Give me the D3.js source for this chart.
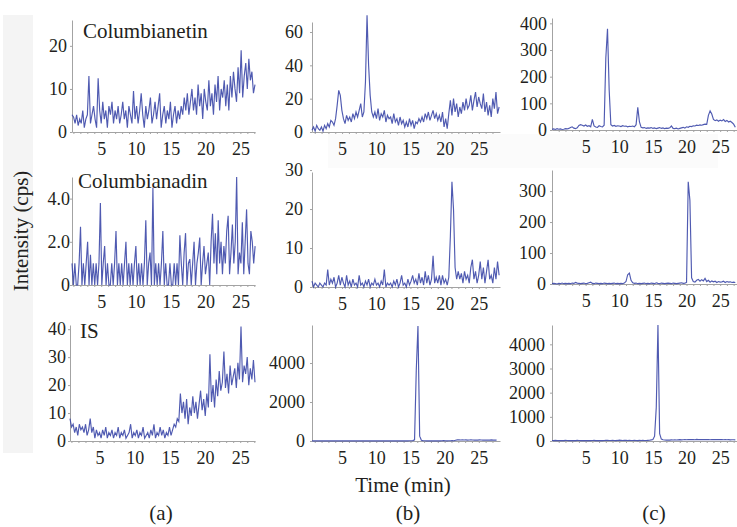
<!DOCTYPE html>
<html>
<head>
<meta charset="utf-8">
<script src="https://cdn.jsdelivr.net/npm/d3@7"></script>
<style>
body { margin: 0; background: #fff; }
svg text { font-family: "Liberation Serif", "Times New Roman", serif; fill: #231f20; }
</style>
</head>
<body>
<svg id="chart" width="737" height="527"></svg>
<script>
// x ticks shared by every panel (min)
var xLabels = [5, 10, 15, 20, 25];
var xMinor = [1,2,3,4,5,6,7,8,9,10,11,12,13,14,15,16,17,18,19,20,21,22,23,24,25,26,27];

// y ticks per panel
var a1Ticks = [0, 10, 20];
var a2Ticks = [0, 2, 4];
var a2Labels = ["0", "2.0", "4.0"];
var a3Ticks = [0, 10, 20, 30, 40];
var b1Ticks = [0, 20, 40, 60];
var b2Ticks = [0, 10, 20, 30];
var b3Ticks = [0, 2000, 4000];
var c1Ticks = [0, 100, 200, 300, 400];
var c2Ticks = [0, 100, 200, 300];
var c3Ticks = [0, 1000, 2000, 3000, 4000];

var compounds = ["Columbianetin", "Columbianadin", "IS"];
var columns = ["(a)", "(b)", "(c)"];

// scan start / interval (min) of each trace
var a1Scan = [0.8, 0.221];
var a2Scan = [0.8, 0.204];
var a3Scan = [0.8, 0.221];
var b1Scan = [0.6, 0.23];
var b2Scan = [0.6, 0.23];
var b3Scan = [0.6, 0.25];
var c1Scan = [0, 0.25];
var c2Scan = [0, 0.25];
var c3Scan = [0, 0.25];

// intensities (cps)
var a1 = [4,3.5,2,4,1.5,3,2,5,1,3, 4,13,2,4,6,3,1,12.5,5,2, 7,3,5,1,6,4,7,2,5,3,
  6,2,4,7,3,5,1,6,4,2, 9.5,3,6,2,5,9,4,1,6,3, 5,8,2,4,7,3,6,9,1,4,
  6,2,5,3,7,1,4,6,2,5, 3,6,4,8,5,9,4,7,10,5, 8,4,11,6,9,3,10,7,5,12,
  6,9,4,11,7,13,5,10,8,12, 6,11,5,13,8,14,10,7,15,9, 19,8,13,16,10,17,12,14,9,11];
var a2 = [1,0,1,0,0,1,2.7,0,1,0, 1,2.0,0,1.4,0,1,0,1,0,1, 3.8,0,1,1.8,0,1,0,0,1,0,
  1,2.5,0,1,0,1,0,1,2.0,0, 1,0,1,0,1,1.8,0,1,0,1, 0,1,3.0,0,1,1.5,0,4.5,0,1,
  0,1,0,1,2.5,0,1,0,0,1, 0,0,1,0,1,0,2.3,1,0,1.5, 2.4,0,1,1.2,0,1,2,0,1,1.5,
  2.2,0,1,1.8,0.5,1,1.5,0,2,3.3, 1,2.4,0.5,3.0,1,2,0.5,1.8,1,2.5,
  3.2,0.5,1.5,2.8,1,2,5.0,0.5,1.5,1, 2.9,0.5,2,3.5,1,0.5,2.5,2.0,1,1.8];
var a3 = [8,5,6,3,5,2,6,4,5,3, 6,2,4,8,3,5,1,4,2,3, 1,4,2,5,1,3,2,4,1,3,
  2,5,1,3,2,4,1,2,3,6, 1,3,2,4,1,3,2,5,1,2, 3,1,4,2,6,1,3,2,5,2,
  4,1,3,2,5,2,4,6,5,8, 7,17,10,14,8,15,6,12,9,16, 10,14,8,13,18,11,15,9,17,12,
  31,14,20,12,22,16,25,18,21,32, 19,24,17,27,20,23,26,19,28,22, 41,21,27,24,30,20,26,22,29,21];
var b1 = [1,3,0.5,4,2,1,3,0.5,4,2, 5,3,7,6,4,8,16,25,22,13, 8,5,10,7,9,6,11,8,12,9,
  13,17,9,12,30,70,40,22,12,9, 12,8,14,7,11,9,13,6,10,8, 9,5,11,6,8,4,9,5,7,3,
  6,3,8,4,7,2,6,5,8,6, 9,6,11,8,12,7,10,13,8,11, 7,10,6,12,3,8,2,11,19,10,
  20,12,17,9,15,11,18,13,20,14, 16,22,13,19,24,15,21,17,14,23, 12,18,10,16,9,20,14,24,11,15];
var b2 = [1.5,0,1,0.5,0,1,0.5,0,1,0.5, 4.5,0.5,2,1,2.5,0,1,3,0.5,2.5, 1,0,3,0.5,1.5,0,2,0.5,1,0,
  3,0.5,1,0,1.5,0.5,2,0,1,0.5, 2,0.5,1,0,1.5,0.5,4.5,0,1,0.5, 1,0,1.5,0.5,2,0,1,3,0.5,1,
  0,2,0.5,1.5,3,1,2,0.5,3.5,1, 2.5,0.5,4,1,3,0.5,2,8,1,2.5, 1,3,0.5,3,1,2,0.5,2.5,13,27,
  20,5,2,4,2,3.5,1,4,2,3, 1,5,7,2,4,1,3,6.5,2,5, 1,4,7,2,3,1,5,2,6.5,3];
var b3 = [10,5,12,8,6,10,7,9,5,8, 6,9,7,5,8,6,10,7,9,6, 8,5,7,9,6,8,5,7,6,9,
  7,5,8,6,9,7,5,8,6,7, 9,6,8,5,7,10,6,8,7,9, 6,8,5,7,9,6,8,12,15,20,
  60,3600,5900,250,40,20,15,10,12,8, 10,9,12,8,11,9,15,20,12,10, 14,12,18,15,40,55,60,52,58,50,
  55,48,52,60,50,45,52,48,55,50, 47,52,45,50,48,55,46,50,44];
var c1 = [3,4,2,5,3,4,2,3,5,4, 6,9,12,7,5,8,17,20,18,15, 19,14,16,12,40,15,11,10,16,13,
  12,18,270,380,150,20,15,17,14,16, 15,13,16,14,15,12,14,13,15,12, 20,85,30,10,8,9,6,8,7,9,
  6,8,5,7,9,6,8,5,7,6, 8,15,6,5,7,4,6,8,10,7, 12,10,14,13,16,15,18,17,19,18,
  20,22,21,55,72,60,40,35,38,33, 37,34,39,32,36,30,33,28,22,10];
var c2 = [1,2,1,0,2,1,3,1,2,1, 2,1,3,2,5,3,2,1,2,3, 1,2,4,6,2,1,3,2,1,2,
  1,3,2,1,2,1,2,3,1,2, 1,2,1,3,8,30,35,12,4,2, 3,1,2,1,2,3,1,2,1,3,
  2,1,4,2,1,3,2,1,2,3, 2,1,3,2,1,2,3,4,2,3, 5,330,270,20,8,6,12,15,9,14,
  10,18,8,12,6,10,7,9,5,8, 6,7,9,5,8,6,7,5,6,5];
var c3 = [20,15,25,18,22,15,20,17,24,19, 16,22,18,20,15,23,19,17,21,16, 20,18,22,15,19,24,17,20,16,22,
  18,21,25,30,22,19,24,20,18,23, 35,28,22,30,25,20,26,22,19,24, 21,18,23,20,25,22,19,24,30,45,
  60,200,1400,4800,300,80,50,40,35,42, 38,45,40,50,42,48,55,45,52,60, 50,58,62,55,60,52,65,58,62,56,
  60,55,63,58,52,60,56,62,54,58, 55,60,52,57,50,55,48,53,50,45];

var svg = d3.select("#chart");

// faint scan backgrounds of the original figure
svg.append("rect").attr("x", 3).attr("y", 15).attr("width", 30).attr("height", 438).style("fill", "#f4f4f4");
svg.append("rect").attr("x", 328).attr("y", 134).attr("width", 390).attr("height", 34).style("fill", "#fbfbfb");

var colX = [[0.8, 27.1, 72, 255], [0.6, 28.1, 312, 500], [0, 27.5, 552, 737]];
var panels = [
  {col: 0, data: a1, scan: a1Scan, top: 26, y0: 132, y1: 20, ticks: a1Ticks, pad: 3},
  {col: 1, data: b1, scan: b1Scan, top: 66, y0: 132, y1: 22, ticks: b1Ticks, pad: 7},
  {col: 2, data: c1, scan: c1Scan, top: 420, y0: 130, y1: 18, ticks: c1Ticks, pad: 3},
  {col: 0, data: a2, scan: a2Scan, top: 5, y0: 285, y1: 177, ticks: a2Ticks, labels: a2Labels, pad: 0},
  {col: 1, data: b2, scan: b2Scan, top: 29.5, y0: 287, y1: 172, ticks: b2Ticks, pad: 7},
  {col: 2, data: c2, scan: c2Scan, top: 368, y0: 284, y1: 170, ticks: c2Ticks, pad: 4},
  {col: 0, data: a3, scan: a3Scan, top: 41.5, y0: 441, y1: 325, ticks: a3Ticks, pad: 2, xAxis: 70},
  {col: 1, data: b3, scan: b3Scan, top: 5950, y0: 441, y1: 325, ticks: b3Ticks, pad: 5},
  {col: 2, data: c3, scan: c3Scan, top: 4800, y0: 441, y1: 325, ticks: c3Ticks, pad: 5}
];

panels.forEach(function(p) {
  var cx = colX[p.col];
  var left = p.xAxis || cx[2];
  var x = d3.scaleLinear([cx[0], cx[1]], [left, cx[3]]);
  var y = d3.scaleLinear([0, p.top], [p.y0, p.y1]);
  var g = svg.append("g");

  // minor ticks + axis line
  g.append("g")
    .attr("transform", "translate(0," + p.y0 + ")")
    .call(d3.axisBottom(x).tickValues(xMinor.filter(d => d > cx[0] && d < cx[1]))
      .tickSize(2).tickSizeOuter(0).tickFormat(""))
    .call(a => a.selectAll("line, path").style("stroke", "#a3a3a3"));
  g.append("g")
    .attr("transform", "translate(0," + p.y0 + ")")
    .call(d3.axisBottom(x).tickValues(xLabels).tickSize(0).tickPadding(10))
    .call(a => a.select(".domain").remove())
    .call(a => a.selectAll("text").style("font-size", "18px"));

  g.append("g")
    .attr("transform", "translate(" + left + ",0)")
    .call(d3.axisLeft(y).tickValues(p.ticks).tickSize(2).tickSizeOuter(0).tickPadding(p.pad)
      .tickFormat((d, i) => p.labels ? p.labels[i] : d))
    .call(a => a.selectAll("line, path").style("stroke", "#a3a3a3"))
    .call(a => a.selectAll("text").style("font-size", "18px"));

  var line = d3.line()
    .x((d, i) => x(p.scan[0] + i * p.scan[1]))
    .y(d => y(d));
  g.append("path")
    .datum(p.data)
    .attr("d", line)
    .style("fill", "none")
    .style("stroke", "#3743a6")
    .style("stroke-width", 1.15)
    .style("stroke-opacity", 0.88);
});

// compound names
svg.append("text").attr("x", 83).attr("y", 38).style("font-size", "21px").text(compounds[0]);
svg.append("text").attr("x", 78).attr("y", 188).style("font-size", "21px").text(compounds[1]);
svg.append("text").attr("x", 80).attr("y", 338).style("font-size", "21px").text(compounds[2]);

svg.append("text")
  .attr("transform", "translate(28,231) rotate(-90)")
  .attr("text-anchor", "middle")
  .style("font-size", "21px")
  .text("Intensity (cps)");
svg.append("text").attr("x", 403).attr("y", 492).attr("text-anchor", "middle")
  .style("font-size", "21px").text("Time (min)");

var colCenters = [161, 408, 654];
svg.selectAll(".col-label").data(columns).enter().append("text")
  .attr("class", "col-label")
  .attr("x", (d, i) => colCenters[i])
  .attr("y", 520)
  .attr("text-anchor", "middle")
  .style("font-size", "21px")
  .text(d => d);
</script>
</body>
</html>
